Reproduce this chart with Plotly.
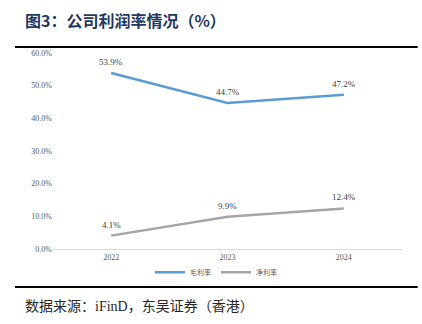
import plotly.graph_objects as go

years = ["2022", "2023", "2024"]
gross_margin = [53.9, 44.7, 47.2]
net_margin = [4.1, 9.9, 12.4]
y_ticks = [0, 10, 20, 30, 40, 50, 60]
y_tick_labels = ["0.0%", "10.0%", "20.0%", "30.0%", "40.0%", "50.0%", "60.0%"]

serif = "Liberation Serif, Times New Roman, serif"
cjk = "Noto Sans CJK SC"

fig = go.Figure()
series = [("毛利率", gross_margin, "#5B9BD5"), ("净利率", net_margin, "#A5A5A5")]
labels = []
for name, vals, color in series:
    fig.add_trace(go.Scatter(
        x=years, y=vals, name=name, mode="lines",
        line=dict(color=color, width=2.5),
    ))
    # value labels sit just above each point (category index on x)
    for i, v in enumerate(vals):
        labels.append(dict(x=i, y=v, xref="x", yref="y", text=f"{v:.1f}%",
                           showarrow=False, yshift=11, yanchor="middle",
                           font=dict(family=serif, size=9, color="#404040")))

fig.update_layout(
    width=422, height=324,
    margin=dict(l=53, r=20, t=53, b=75),
    paper_bgcolor="white", plot_bgcolor="white",
    showlegend=True,
    legend=dict(orientation="h", x=0.467, xanchor="center", y=-0.045, yanchor="top",
                bgcolor="rgba(0,0,0,0)",
                font=dict(family=cjk, size=7, color="#595959"),
                itemwidth=30, tracegroupgap=0),
    xaxis=dict(type="category", range=[-0.5, 2.5], showgrid=False, showline=True,
               linecolor="#D9D9D9", linewidth=1, ticks="",
               tickfont=dict(family=serif, size=8, color="#595959")),
    yaxis=dict(range=[0, 60], tickvals=y_ticks, ticktext=y_tick_labels,
               showgrid=False, zeroline=False, showline=False, ticks="",
               tickfont=dict(family=serif, size=8, color="#595959")),
    shapes=[
        dict(type="line", xref="paper", yref="paper", x0=-0.109, x1=1.045,
             y0=1.031, y1=1.031, line=dict(color="black", width=2)),
        dict(type="line", xref="paper", yref="paper", x0=-0.109, x1=1.045,
             y0=-0.194, y1=-0.194, line=dict(color="black", width=2)),
    ],
    annotations=labels + [
        dict(text="<b>图3：公司利润率情况（%）</b>", xref="paper", yref="paper",
             x=-0.086, y=1.17, xanchor="left", yanchor="middle", showarrow=False,
             font=dict(family=cjk, size=16, color="#1F3864")),
        dict(text="数据来源：<span style='font-family:Liberation Serif'>iFinD</span>，东吴证券（香港）",
             xref="paper", yref="paper", x=-0.086, y=-0.285, xanchor="left",
             yanchor="middle", showarrow=False,
             font=dict(family=cjk, size=14, color="#262626")),
    ],
)

fig.write_html("out.html")
